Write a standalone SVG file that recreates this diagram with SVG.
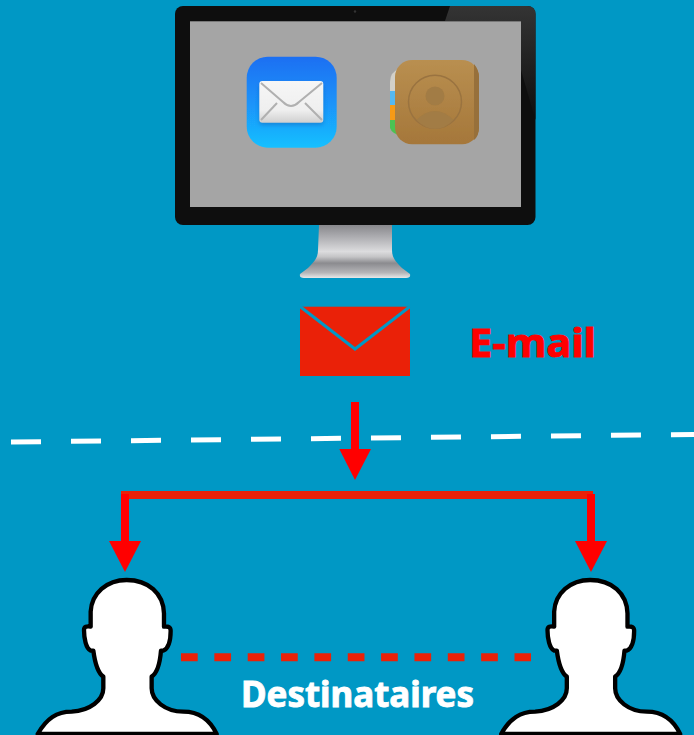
<svg xmlns="http://www.w3.org/2000/svg" width="694" height="735" viewBox="0 0 694 735">
<style>
.lbl{font-family:"Noto Sans","Open Sans","Liberation Sans",sans-serif;font-weight:700;stroke-width:.9;paint-order:stroke}
.red{fill:none;stroke:#ff0000;stroke-width:8}
.head{fill:#ff0000}
.person{fill:#fff;stroke:#000;stroke-width:13;stroke-linejoin:round}
</style>
<defs>
<filter id="soft" x="-5%" y="-5%" width="110%" height="110%"><feGaussianBlur stdDeviation=".45"/></filter>
<filter id="shadow" x="-15%" y="-15%" width="130%" height="140%"><feGaussianBlur stdDeviation="2"/></filter>
<linearGradient id="mailBg" x1="0" y1="0" x2="0" y2="1"><stop offset="0" stop-color="#1f6ff2"/><stop offset=".55" stop-color="#1a96fa"/><stop offset="1" stop-color="#18c0ff"/></linearGradient>
<linearGradient id="env" x1="0" y1="0" x2="0" y2="1"><stop offset="0" stop-color="#f6f6f6"/><stop offset=".7" stop-color="#efefef"/><stop offset="1" stop-color="#cfcfcf"/></linearGradient>
<linearGradient id="book" x1="0" y1="0" x2="0" y2="1"><stop offset="0" stop-color="#b98f50"/><stop offset="1" stop-color="#a5773a"/></linearGradient>
<linearGradient id="shine" x1="0" y1="0" x2="0" y2="1"><stop offset="0" stop-color="#343434"/><stop offset="1" stop-color="#0e0e0e"/></linearGradient>
<linearGradient id="stand" x1="0" y1="0" x2="0" y2="1">
<stop offset="0" stop-color="#88888c"/><stop offset=".2" stop-color="#a9a9ad"/><stop offset=".5" stop-color="#dcdcde"/><stop offset=".6" stop-color="#c4c4c6"/><stop offset=".72" stop-color="#8b8b8f"/><stop offset=".9" stop-color="#b5b5b8"/><stop offset="1" stop-color="#e8e8e8"/></linearGradient>
<path id="person" d="M113 522C140 475 170 455 215 455C270 452 310 420 310 385L310 350C295 340 285 310 280 272L272 272C258 265 252 235 252 210C252 200 260 198 272 200L272 155C275 100 320 60 380 60C445 60 490 100 492 160L492 200C505 198 512 202 512 212C512 240 505 265 490 272L483 272C480 310 470 340 455 350L455 385C455 420 495 455 550 455C595 455 630 480 650 522Z"/>
</defs>
<rect id="background" width="694" height="735" fill="#0098c5"/>
<g id="monitor">
<path d="M319 225H392V250C392 258 396 262 402 268L410 274Q411 278 406 278H304Q299 278 300 274L308 268C314 262 318 258 318 250Z" fill="url(#stand)"/>
<rect x="175" y="6" width="360.500" height="219" rx="8" fill="#0e0e0e"/>
<path d="M450 6H527Q535.500 6 535.500 14V120L521 70V21H445Z" fill="url(#shine)"/>
<rect x="190" y="21.300" width="331" height="185.700" fill="#a5a5a5"/>
<circle cx="355" cy="11.500" r="1.200" fill="#333"/>
</g>
<g id="mail-app" filter="url(#soft)">
<rect x="246.700" y="56.700" width="90" height="91" rx="21" fill="url(#mailBg)"/>
<rect x="259.300" y="84" width="64" height="41" rx="3" fill="#0f5fb0" opacity=".45" filter="url(#shadow)"/>
<rect x="259.300" y="81" width="64" height="41.700" rx="3" fill="url(#env)"/>
<path d="M261 83L283 102Q291 110 299 102L322 83M261 120L277 103M322 120L305 103" fill="none" stroke="#b0b0b0" stroke-width="2"/>
</g>
<g id="contacts-app" filter="url(#soft)">
<path d="M400 68Q390 72 390 82V92H400Z" fill="#d2d0c8"/>
<rect x="390" y="91" width="12" height="14" fill="#55b8f0"/>
<rect x="390" y="105" width="12" height="15" fill="#f79a12"/>
<path d="M390 120H402V136Q392 134 390 128Z" fill="#4cc253"/>
<rect x="395" y="60" width="84" height="84.300" rx="17" fill="url(#book)"/>
<path d="M474 64Q479 70 479 77V127Q479 136 474 140Z" fill="#97703a"/>
<circle cx="435" cy="101.700" r="26.500" fill="none" stroke="#9a7340" stroke-width="1.500"/>
<circle cx="435" cy="96" r="9.500" fill="#a27b44"/>
<path d="M416.500 120Q425 111 435 111Q445 111 453.500 120Q445 129 435 129Q425 129 416.500 120Z" fill="#a27b44"/>
</g>
<g id="email-envelope">
<rect x="300" y="306.700" width="110" height="69.300" fill="#ea2108"/>
<path d="M300 306.500L355 349L410 306.500" fill="none" stroke="#0098c5" stroke-width="3"/>
<text class="lbl" x="469" y="357" font-size="40" fill="#ff0000" stroke="#ff0000" textLength="127" lengthAdjust="spacingAndGlyphs">E-mail</text>
</g>
<g id="connectors">
<path d="M11 442L694 434.400" fill="none" stroke="#fff" stroke-width="5" stroke-dasharray="30 30"/>
<path class="red" d="M355 402V450"/>
<path class="head" d="M339.300 449H371L355 480Z"/>
<path d="M121 495H593" fill="none" stroke="#ea2108" stroke-width="8"/>
<path class="red" d="M125 494V542"/>
<path class="head" d="M109 541H141L125 572Z"/>
<path class="red" d="M591 494V542"/>
<path class="head" d="M575 541H607L591 572Z"/>
<path d="M181 657.300H531" fill="none" stroke="#ea2108" stroke-width="8" stroke-dasharray="16.700 16.650"/>
</g>
<g id="recipient-left"><use href="#person" class="person" transform="translate(0 560) scale(.3333)"/></g>
<g id="recipient-right"><use href="#person" class="person" transform="translate(463.500 560) scale(.3333)"/></g>
<g id="recipients-label"><text class="lbl" x="241" y="706.500" font-size="35" fill="#fff" stroke="#fff" textLength="233" lengthAdjust="spacingAndGlyphs">Destinataires</text></g>
</svg>
